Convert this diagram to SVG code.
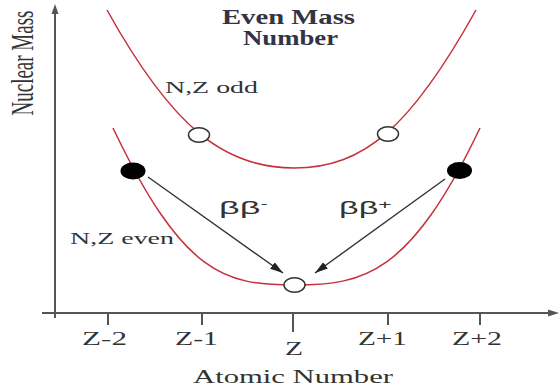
<svg xmlns="http://www.w3.org/2000/svg" width="560" height="386" viewBox="0 0 560 386">
<style>
.axis{stroke:#555;stroke-width:2;fill:none}
.curve{stroke:#c4303c;stroke-width:1.5;fill:none}
.open{fill:#fff;stroke:#333;stroke-width:1.5}
.full{fill:#000}
.lbl{font-family:"Liberation Serif","Times New Roman",serif;fill:#333}
.ttl{font-family:"Liberation Serif","Times New Roman",serif;fill:#333344;font-weight:bold;font-size:20px}
.bb{font-family:"Liberation Sans",Arial,sans-serif;fill:#333;font-size:18px}
.arr{stroke:#333;stroke-width:1.4;fill:none}
</style>
<defs>
<marker id="ah" markerUnits="userSpaceOnUse" markerWidth="13" markerHeight="8" refX="13" refY="4" orient="auto">
<path d="M0,0 L13,4 L0,8 Z" fill="#222"/>
</marker>
</defs>
<g id="axes">
<line class="axis" x1="55" y1="12" x2="55" y2="318"/>
<path d="M55,4 L58.5,14 L51.5,14 Z" fill="#555"/>
<line class="axis" x1="42" y1="313" x2="550" y2="313"/>
<path d="M559,313 L548,309.5 L548,316.5 Z" fill="#555"/>
<line class="axis" x1="108" y1="313" x2="108" y2="325"/>
<line class="axis" x1="202" y1="313" x2="202" y2="325"/>
<line class="axis" x1="293" y1="313" x2="293" y2="332"/>
<line class="axis" x1="388" y1="313" x2="388" y2="325"/>
<line class="axis" x1="480" y1="313" x2="480" y2="325"/>
</g>
<g id="labels">
<text class="lbl" font-size="19" text-anchor="middle" transform="translate(33,63) scale(1.65,1) rotate(-90)">Nuclear Mass</text>
<text class="ttl" x="222" y="24" textLength="133" lengthAdjust="spacingAndGlyphs">Even Mass</text>
<text class="ttl" x="243" y="45" textLength="95" lengthAdjust="spacingAndGlyphs">Number</text>
<text class="lbl" font-size="17" x="165" y="93" textLength="93" lengthAdjust="spacingAndGlyphs">N,Z odd</text>
<text class="lbl" font-size="17" x="70" y="244" textLength="104" lengthAdjust="spacingAndGlyphs">N,Z even</text>
<text class="lbl" font-size="19" x="82" y="345" textLength="45" lengthAdjust="spacingAndGlyphs">Z-2</text>
<text class="lbl" font-size="19" x="175" y="345" textLength="43" lengthAdjust="spacingAndGlyphs">Z-1</text>
<text class="lbl" font-size="19" x="285" y="355" textLength="18" lengthAdjust="spacingAndGlyphs">Z</text>
<text class="lbl" font-size="19" x="358" y="345" textLength="49" lengthAdjust="spacingAndGlyphs">Z+1</text>
<text class="lbl" font-size="19" x="452" y="345" textLength="50" lengthAdjust="spacingAndGlyphs">Z+2</text>
<text class="lbl" font-size="19" x="193" y="383" textLength="200" lengthAdjust="spacingAndGlyphs">Atomic Number</text>
</g>
<g id="curves">
<path id="odd-curve" class="curve" d="M107,10 C172,127 224,168 294,168 C364,168 411,127 476,10"/>
<path id="even-curve" class="curve" d="M113,128 C183,275 225,285 294,285 C364,285 410,275 480,128"/>
</g>
<g id="connectors">
<line class="arr" x1="148" y1="177" x2="283" y2="273" marker-end="url(#ah)"/>
<line class="arr" x1="445" y1="179" x2="315" y2="273" marker-end="url(#ah)"/>
<text class="bb" transform="translate(219,214) scale(2,1)">ββ<tspan font-size="11" dy="-7">-</tspan></text>
<text class="bb" transform="translate(339,214) scale(1.9,1)">ββ<tspan font-size="12" dy="-5">+</tspan></text>
</g>
<g id="node-z-1"><ellipse class="open" cx="199" cy="135" rx="10.5" ry="7.2"/></g>
<g id="node-z+1"><ellipse class="open" cx="388" cy="134" rx="10.5" ry="7.2"/></g>
<g id="node-z-2"><ellipse class="full" cx="133" cy="171" rx="12.5" ry="8.5"/></g>
<g id="node-z+2"><ellipse class="full" cx="459.5" cy="170.5" rx="12.5" ry="8.5"/></g>
<g id="node-z"><ellipse class="open" cx="294.5" cy="285" rx="10.5" ry="7.2"/></g>
</svg>
